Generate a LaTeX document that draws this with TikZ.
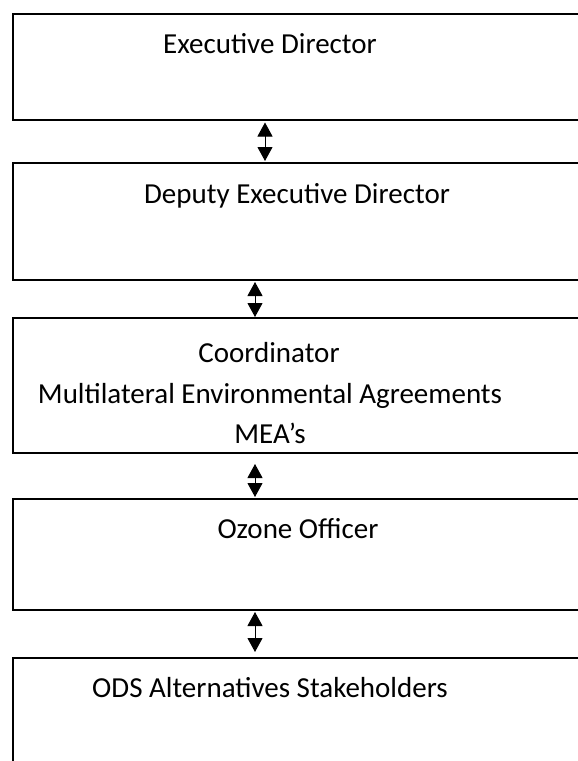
\documentclass[tikz,border=0pt]{standalone}
\usepackage{fontspec}
\setmainfont{Carlito}
\usetikzlibrary{arrows.meta,calc}
\tikzset{
  orgbox/.style={draw, line width=2pt, rectangle, anchor=north west, inner sep=0pt, minimum width=620pt},
  lbl/.style={anchor=base, inner sep=0pt, font=\fontsize{29}{34}\selectfont},
  link/.style={line width=1pt, {Triangle[length=14pt,width=15pt]}-{Triangle[length=14pt,width=15pt]}}
}
\begin{document}
\begin{tikzpicture}[x=1pt,y=-1pt]
\useasboundingbox (0,0) rectangle (578,761);
\fill[white] (0,0) rectangle (578,761);
\clip (0,0) rectangle (578,761);
% boxes
\node[orgbox, minimum height=106pt] (b1) at (11.5,12.5) {};
\node[orgbox, minimum height=117pt] (b2) at (11.5,162) {};
\node[orgbox, minimum height=135pt] (b3) at (11.5,317) {};
\node[orgbox, minimum height=111pt] (b4) at (11.5,498) {};
\node[orgbox, minimum height=160pt] (b5) at (11.5,657) {};
% texts
\node[lbl] (t1) at (270,53) {Executive Director};
\node[lbl] (t2) at (297,203) {Deputy Executive Director};
\node[lbl] (t3a) at (269,362) {Coordinator};
\node[lbl] (t3b) at (270,403) {Multilateral Environmental Agreements};
\node[lbl] (t3c) at (270,443) {MEA’s};
\node[lbl] (t4) at (298,538) {Ozone Officer};
\node[lbl] (t5) at (270,697) {ODS Alternatives Stakeholders};
% connector end points
\coordinate (a1s) at ($(b1.south west)+(253.5,2)$);
\coordinate (a1e) at ($(b2.north west)+(253.5,-1)$);
\coordinate (a2s) at ($(b2.south west)+(243.5,1)$);
\coordinate (a2e) at ($(b3.north west)+(243.5,0)$);
\coordinate (a3s) at ($(b3.south west)+(243.5,10)$);
\coordinate (a3e) at ($(b4.north west)+(243.5,-1)$);
\coordinate (a4s) at ($(b4.south west)+(243.5,1)$);
\coordinate (a4e) at ($(b5.north west)+(243.5,-5)$);
\draw[link] (a1s) -- (a1e);
\draw[link] (a2s) -- (a2e);
\draw[link] (a3s) -- (a3e);
\draw[link] (a4s) -- (a4e);
\end{tikzpicture}
\end{document}
